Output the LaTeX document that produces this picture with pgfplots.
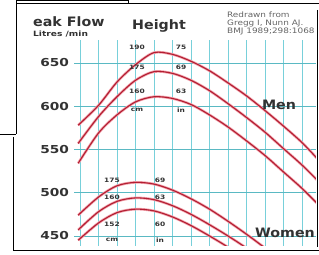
\documentclass[border=0pt]{standalone}
\usepackage{fontspec}
\setmainfont{DejaVu Sans}[FakeStretch=1.1]
\newfontfamily\widefont{DejaVu Sans}[FakeStretch=1.25]
\newfontfamily\notefont{DejaVu Sans}[FakeStretch=1.19]
\usepackage{pgfplots}
\usepackage{pgfplotstable}
\pgfplotsset{compat=1.18}
\definecolor{curve}{RGB}{178,30,50}
\definecolor{halo}{RGB}{242,160,170}
\definecolor{vgrid}{RGB}{120,208,218}
\definecolor{hgrid}{RGB}{90,185,195}
\definecolor{txt}{RGB}{50,50,50}
\definecolor{note}{RGB}{100,100,100}

\pgfplotstableread{
age  m190 m175 m160
14.5 578  557  534
20   601  588  569
25   628  611  590
30   648  630  605
35   662  640  611
40   660  638  609
45   652  630  602
50   641  618  590
55   627  603  576
60   612  587  560
65   595  570  543
70   577  551  524
75   558  532  505
79   540  515  488
}\men

\pgfplotstableread{
age  w175 w160 w152
14.5 474  457  445
20   495  478  465
25   508  490  477
30   512  494  481
35   510  492  479
40   503  485  472
45   493  475  462
50   481  463  450
55   467  450  437
60   452  436  422
65   436  420  406
70   418  403  390
}\women

\begin{document}
\begin{tikzpicture}
\useasboundingbox (0,0) rectangle (319bp,255bp);
\begin{axis}[
  at={(74bp,9bp)}, anchor=south west, scale only axis,
  width=242bp, height=206bp,
  xmin=13.378, xmax=78.78, ymin=438.4, ymax=676.6,
  axis line style={draw=none}, major tick length=0pt,
  xtick={15,20,...,75}, xticklabels={},
  ytick={450,500,...,650},
  xmajorgrids, ymajorgrids,
  major x grid style={vgrid, line width=0.9bp},
  major y grid style={hgrid, line width=0.9bp},
  /pgf/number format/assume math mode=true,
  yticklabel style={font=\widefont\bfseries\fontsize{11}{12}\selectfont, text=txt, xshift=-1.5bp},
  clip=true,
]
\foreach \c in {m190,m175,m160}{
  \addplot [halo, line width=2.6bp, smooth] table [x=age, y=\c] {\men};
  \addplot [curve, line width=1.1bp, smooth] table [x=age, y=\c] {\men};
}
\foreach \c in {w175,w160,w152}{
  \addplot [halo, line width=2.6bp, smooth] table [x=age, y=\c] {\women};
  \addplot [curve, line width=1.1bp, smooth] table [x=age, y=\c] {\women};
}
\end{axis}
\begin{scope}[shift={(0bp,255bp)}, x=1bp, y=-1bp]
  % texts
  \node[anchor=base west, inner sep=0, font=\bfseries\fontsize{13}{14}\selectfont, text=txt] at (33,27) {eak Flow};
  \node[anchor=base west, inner sep=0, font=\widefont\bfseries\fontsize{7.3}{8}\selectfont, text=txt] at (33,37) {Litres /min};
  \node[anchor=base west, inner sep=0, font=\bfseries\fontsize{13}{14}\selectfont, text=txt] at (132,30) {Height};
  \node[anchor=base west, inner sep=0, font=\notefont\fontsize{7.5}{8}\selectfont, text=note] at (227,18) {Redrawn from};
  \node[anchor=base west, inner sep=0, font=\notefont\fontsize{7.5}{8}\selectfont, text=note] at (227,26) {Gregg I, Nunn AJ.};
  \node[anchor=base west, inner sep=0, font=\notefont\fontsize{7.5}{8}\selectfont, text=note] at (227,34) {BMJ 1989;298:1068};
  \node[inner sep=0, font=\bfseries\fontsize{13}{14}\selectfont, text=txt] at (279,105) {Men};
  \node[inner sep=0, font=\bfseries\fontsize{13}{14}\selectfont, text=txt] at (285,233) {Women};
  % height labels
  \begin{scope}[every node/.style={inner sep=0, font=\widefont\bfseries\fontsize{6}{6}\selectfont, text=txt}]
    \node at (137,47) {190}; \node at (181,47) {75};
    \node at (137,67) {175}; \node at (181,67) {69};
    \node at (137,91) {160}; \node at (181,91) {63};
    \node at (137,110) {cm}; \node at (181,110) {in};
    \node at (112,180) {175}; \node at (160,180) {69};
    \node at (112,197) {160}; \node at (160,197) {63};
    \node at (112,224) {152}; \node at (160,224) {60};
    \node at (112,240) {cm}; \node at (160,240) {in};
  \end{scope}
  % white mask at right beyond frame
  \fill[white] (317.5,5) rectangle (330,249);
  % frame lines
  \begin{scope}[line width=0.8bp, black]
    \draw (16,0.5) -- (128,0.5);
    \draw (128,0) -- (128,3.5);
    \draw (16,3.5) -- (319,3.5);
    \draw (16,0) -- (16,134);
    \draw (0,134) -- (16,134);
    \draw (13,137) -- (13,250);
    \draw (13,250) -- (319,250);
    \draw (317,10) -- (317,247);
  \end{scope}
\end{scope}
\end{tikzpicture}
\end{document}
